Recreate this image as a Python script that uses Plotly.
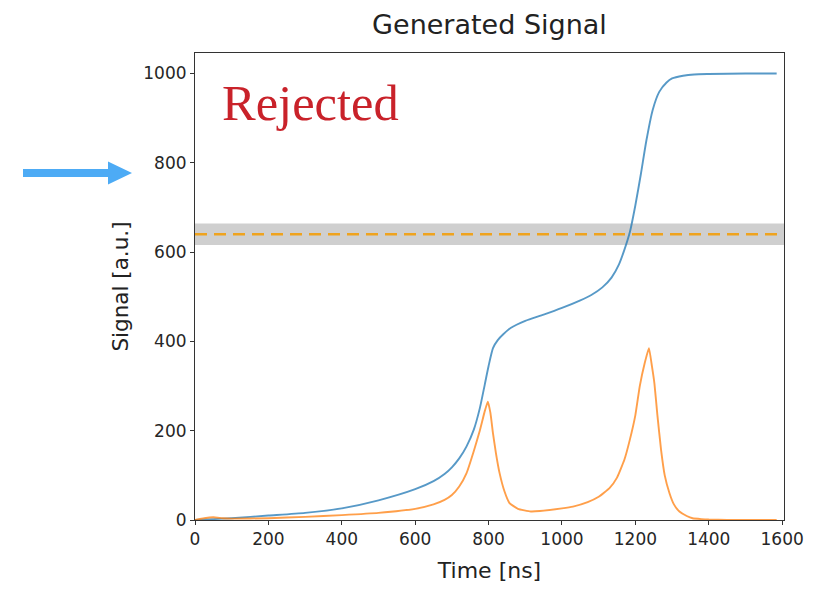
import plotly.graph_objects as go

# ---- data ----
blue_t = [0, 50, 100, 200, 300, 400, 500, 600, 650, 680, 700, 720, 740, 760, 776, 790, 800, 812, 825, 840, 860,
          900, 950, 1000, 1050, 1080, 1110, 1135, 1155, 1170, 1185, 1200, 1215, 1230, 1247, 1265, 1285, 1300, 1330,
          1360, 1400, 1500, 1585]
blue_v = [0, 2, 4, 10, 16, 26, 44, 69, 87, 103, 118, 138, 165, 203, 250, 305, 345, 385, 403, 416, 430,
          446, 460, 475, 492, 504, 521, 543, 572, 605, 645, 705, 775, 850, 918, 959, 980, 989, 995,
          998, 999, 1000, 1000]

orange_t = [0, 25, 50, 75, 100, 200, 300, 400, 500, 600, 650, 680, 700, 720, 740, 760, 776, 790, 798, 805, 812,
            820, 830, 843, 857, 880, 915, 940, 1000, 1030, 1070, 1100, 1130, 1150, 1170, 1185, 1200, 1212, 1225,
            1237, 1245, 1252, 1260, 1270, 1280, 1293, 1305, 1320, 1340, 1356, 1380, 1400, 1450, 1585]
orange_v = [0, 4, 6, 4, 3, 4, 7, 11, 16, 25, 35, 45, 56, 75, 105, 155, 200, 245, 265, 240, 194,
            150, 105, 65, 38, 25, 19, 20, 26, 30, 40, 52, 72, 95, 135, 180, 235, 300, 350,
            385, 345, 305, 235, 157, 100, 60, 35, 19, 9, 4, 2, 1, 0, 0]

threshold = 640
band_low, band_high = 616, 664

x_ticks = [0, 200, 400, 600, 800, 1000, 1200, 1400, 1600]
y_ticks = [0, 200, 400, 600, 800, 1000]

title_text = "Generated Signal"
x_label = "Time [ns]"
y_label = "Signal [a.u.]"
stamp_text = "Rejected"

# ---- layout geometry (page pixels; the page body adds an 8px offset) ----
OFF = 8
W, H = 820 - OFF, 592 - OFF
PL, PR, PT, PB = 195, 784, 53, 520          # plot area edges on the page
L, T = PL - OFF, PT - OFF
R, B = W - (PR - OFF), H - (PB - OFF)
PW, PH = PR - PL, PB - PT


def px(xp):
    return (xp - PL) / PW


def py(yp):
    return (PB - yp) / PH


fig = go.Figure()
fig.add_trace(go.Scatter(x=blue_t, y=blue_v, mode="lines",
                         line=dict(color="rgba(31,119,180,0.75)", width=1.9, shape="spline", smoothing=0.6),
                         showlegend=False, hoverinfo="skip"))
fig.add_trace(go.Scatter(x=orange_t, y=orange_v, mode="lines",
                         line=dict(color="rgba(255,127,14,0.75)", width=1.9, shape="spline", smoothing=0.4),
                         showlegend=False, hoverinfo="skip"))

# grey band and dashed threshold
fig.add_shape(type="rect", xref="paper", yref="y", x0=0, x1=1, y0=band_low, y1=band_high,
              fillcolor="rgba(160,160,160,0.5)", line=dict(width=0), layer="below")
fig.add_shape(type="line", xref="paper", yref="y", x0=0, x1=1, y0=threshold, y1=threshold,
              line=dict(color="#EFA31E", width=2.7, dash="12px,7px"), layer="above")

# blue arrow (decoration, outside the axes)
tip_x, head_x, tail_x, cy = 132, 108, 23, 173
hh, sh = 11.5, 4
path = (f"M {px(tail_x)},{py(cy - sh)} L {px(head_x)},{py(cy - sh)} L {px(head_x)},{py(cy - hh)} "
        f"L {px(tip_x)},{py(cy)} L {px(head_x)},{py(cy + hh)} L {px(head_x)},{py(cy + sh)} "
        f"L {px(tail_x)},{py(cy + sh)} Z")
fig.add_shape(type="path", xref="paper", yref="paper", path=path,
              fillcolor="#4DABF5", line=dict(width=0))

# "Rejected" stamp
fig.add_annotation(text=stamp_text, xref="paper", yref="paper", x=px(220), y=py(103),
                   xanchor="left", yanchor="middle", showarrow=False,
                   font=dict(family="Liberation Serif, Times New Roman, serif", size=50.5, color="#C9222A"))

axis_common = dict(showline=True, linecolor="#333333", linewidth=1.1, mirror=True,
                   ticks="outside", ticklen=4, tickwidth=1, tickcolor="#333333",
                   showgrid=False, zeroline=False,
                   tickfont=dict(family="DejaVu Sans", size=17, color="#262626"))

fig.update_xaxes(range=[0, 1605], tickvals=x_ticks, ticktext=[str(v) for v in x_ticks],
                 title=dict(text=x_label, font=dict(family="DejaVu Sans", size=22, color="#222222"), standoff=14),
                 **axis_common)
fig.update_yaxes(range=[0, 1046], tickvals=y_ticks, ticktext=[str(v) for v in y_ticks],
                 title=dict(text=y_label, font=dict(family="DejaVu Sans", size=21.5, color="#222222"), standoff=8),
                 **axis_common)

fig.update_layout(
    width=W, height=H,
    margin=dict(l=L, r=R, t=T, b=B, autoexpand=False),
    paper_bgcolor="white", plot_bgcolor="white",
    title=dict(text=title_text, x=px((PL + PR) / 2), xref="paper", xanchor="center",
               y=1 - (25 - OFF) / H, yref="container", yanchor="middle",
               font=dict(family="DejaVu Sans", size=27, color="#222222")),
)

fig.write_html("out.html")
